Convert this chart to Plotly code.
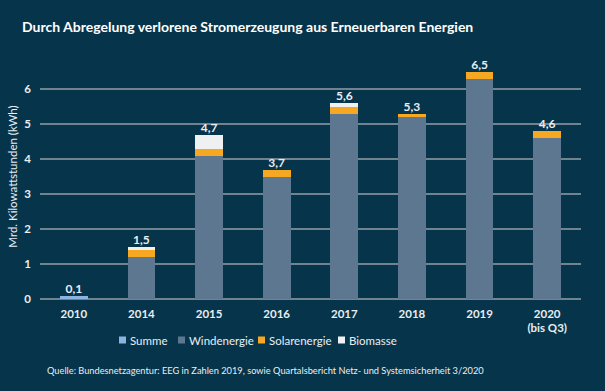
import plotly.graph_objects as go

years = ["2010", "2014", "2015", "2016", "2017", "2018", "2019", "2020<br>(bis Q3)"]
summe = [0.1, None, None, None, None, None, None, None]
wind = [None, 1.2, 4.1, 3.5, 5.3, 5.2, 6.3, 4.6]
solar = [None, 0.2, 0.2, 0.2, 0.2, 0.1, 0.2, 0.2]
biomasse = [None, 0.1, 0.4, None, 0.1, None, None, None]
totals = [0.1, 1.5, 4.7, 3.7, 5.6, 5.3, 6.5, 4.6]
y_ticks = [0, 1, 2, 3, 4, 5, 6]
series_names = ["Summe", "Windenergie", "Solarenergie", "Biomasse"]

BG = "#06344a"
FONT = "Lato, 'Open Sans', sans-serif"
TXT = "#e9eef2"
COLORS = ["#8db4e0", "#5d7790", "#f7a823", "#eef0f2"]

W, H = 605, 391
ML, MR, MT, MB = 40, 24, 54, 92
PW, PH = W - ML - MR, H - MT - MB


def nz(v):
    return v if v is not None else 0


tops = [nz(a) + nz(b) + nz(c) + nz(d) for a, b, c, d in zip(summe, wind, solar, biomasse)]

fig = go.Figure()
bw = 0.41
for name, vals, col in zip(series_names, [summe, wind, solar, biomasse], COLORS):
    fig.add_bar(x=years, y=vals, name=name, marker_color=col, width=bw,
                marker_line_width=0, showlegend=False)

fig.add_scatter(
    x=years, y=tops, mode="text",
    text=[f"{t:.1f}".replace(".", ",") for t in totals],
    textposition="top center",
    textfont=dict(family=FONT, size=12, color=TXT, weight="bold"),
    showlegend=False, hoverinfo="skip", cliponaxis=False,
)


def px_x(px):
    return (px - ML) / PW


def px_y(py):
    return (H - MB - py) / PH


# legend drawn as squares + labels below the chart
legend_x = [119, 178, 258, 338]
legend_y = 340
for name, col, lx in zip(series_names, COLORS, legend_x):
    fig.add_shape(
        type="rect", xref="paper", yref="paper",
        x0=px_x(lx), x1=px_x(lx + 7), y0=px_y(legend_y + 3.5), y1=px_y(legend_y - 3.5),
        fillcolor=col, line_width=0,
    )
    fig.add_annotation(
        text=name, xref="paper", yref="paper", x=px_x(lx + 8.5), xanchor="left",
        y=px_y(legend_y), yanchor="middle", showarrow=False,
        font=dict(family=FONT, size=11.5, color=TXT),
    )

fig.update_layout(
    barmode="stack",
    width=W, height=H,
    paper_bgcolor=BG, plot_bgcolor=BG,
    margin=dict(l=ML, r=MR, t=MT, b=MB),
    font=dict(family=FONT, color=TXT, size=12),
    showlegend=False,
    title=dict(
        text="<b>Durch Abregelung verlorene Stromerzeugung aus Erneuerbaren Energien</b>",
        x=22 / W, xanchor="left", y=1 - 27 / H, yanchor="middle",
        font=dict(family=FONT, size=14, color="#ffffff"),
    ),
)
fig.update_xaxes(
    showgrid=False, showline=False, ticks="", ticklabelstandoff=6,
    tickfont=dict(family=FONT, size=11.5, color=TXT, weight="bold"),
)
fig.update_yaxes(
    range=[0, 7], tickvals=y_ticks, ticklabelstandoff=8,
    showgrid=True, gridcolor="#71838f", gridwidth=1.5,
    zeroline=True, zerolinecolor="#71838f", zerolinewidth=1.5,
    tickfont=dict(family=FONT, size=11.5, color=TXT, weight="bold"),
    title=dict(text="Mrd. Kilowattstunden (kWh)", font=dict(family=FONT, size=11.5, color=TXT), standoff=4),
)
fig.add_annotation(
    text="Quelle: Bundesnetzagentur: EEG in Zahlen 2019, sowie Quartalsbericht Netz- und Systemsicherheit 3/2020",
    xref="paper", yref="paper", x=px_x(45), xanchor="left",
    y=px_y(370), yanchor="middle", showarrow=False,
    font=dict(family=FONT, size=9.25, color=TXT),
)
fig.write_html(
    "out.html",
    config={"displayModeBar": False},
    post_script="document.body.style.margin='0';document.body.style.overflow='hidden';",
)
